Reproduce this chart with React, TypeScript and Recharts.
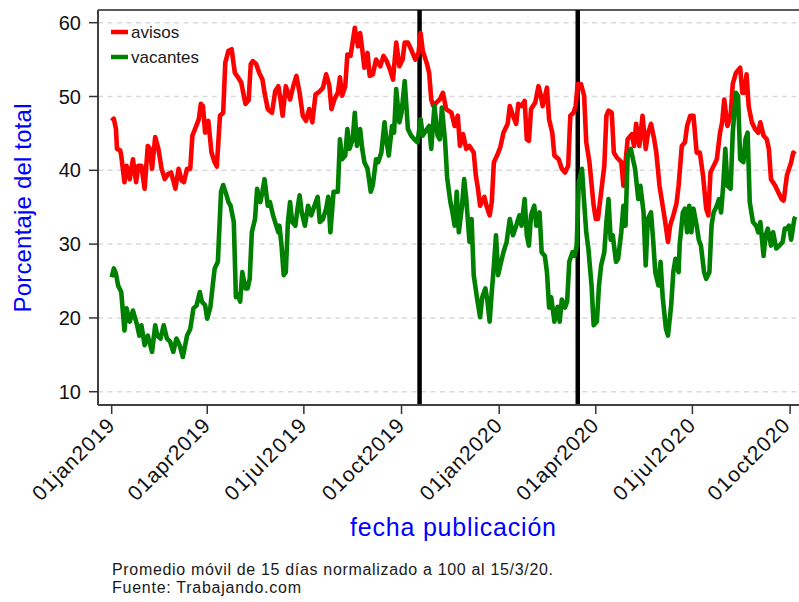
import { LineChart, Line, XAxis, YAxis, CartesianGrid, ReferenceLine } from "recharts";

// días contados desde el 01jan2019
const fechasTicks = [0, 90, 181, 273, 365, 456, 547, 639];
const fechasLabels = [
  "01jan2019",
  "01apr2019",
  "01jul2019",
  "01oct2019",
  "01jan2020",
  "01apr2020",
  "01jul2020",
  "01oct2020",
];
const yTicks = [10, 20, 30, 40, 50, 60];
// 18oct2019 y 15mar2020
const eventos = [290, 439];

const avisosDias = [
  0, 2, 4, 5, 8, 9, 12, 14, 17, 20, 23, 25, 28, 31, 34, 36, 38, 41, 44, 47, 50, 53, 56, 60, 63, 66,
  68, 71, 74, 76, 78, 82, 84, 86, 88, 91, 94, 97, 99, 102, 105, 107, 110, 113, 116, 119, 122, 126,
  129, 131, 133, 136, 139, 142, 144, 147, 151, 154, 157, 159, 161, 164, 168, 171, 174, 177, 180,
  183, 186, 189, 192, 196, 199, 202, 205, 207, 210, 213, 215, 217, 220, 222, 225, 229, 232, 234,
  236, 238, 241, 243, 246, 249, 253, 256, 259, 262, 265, 268, 271, 274, 276, 279, 282, 286, 289,
  291, 293, 297, 299, 301, 303, 306, 309, 312, 315, 320, 323, 326, 328, 331, 334, 337, 341, 343,
  345, 347, 351, 353, 356, 358, 360, 363, 366, 369, 373, 375, 378, 381, 383, 386, 389, 391, 393,
  395, 399, 402, 404, 406, 410, 412, 415, 417, 421, 424, 427, 430, 432, 435, 437, 439, 442, 445,
  447, 450, 454, 456, 458, 461, 464, 466, 468, 471, 473, 476, 480, 482, 484, 486, 490, 492, 494,
  497, 500, 503, 505, 508, 511, 513, 516, 518, 521, 524, 526, 529, 532, 534, 537, 540, 542, 545,
  548, 551, 554, 557, 560, 562, 564, 567, 570, 573, 575, 577, 580, 583, 585, 588, 592, 594, 596,
  598, 600, 603, 606, 609, 611, 614, 617, 619, 621, 625, 628, 631, 633, 636, 638, 640, 642, 644,
];
const avisos = [
  46.7, 47, 45.6, 42.9, 42.7, 42, 38.4, 40.6, 38.8, 41.5, 38.4, 40.6, 40.6, 37.5, 43.3, 42.9, 40.2,
  44.5, 42.9, 40.2, 38.8, 39.5, 39.7, 37.5, 40.2, 38.6, 38.4, 40.2, 40.2, 44.7, 45.4, 46.9, 49.0,
  48.7, 45.1, 46.7, 42.4, 41.1, 40.5, 47.4, 47.8, 54.6, 56.2, 56.4, 53.2, 52.6, 51.9, 49, 49.5, 54.4,
  54.8, 54.4, 53.2, 52.3, 50.5, 48.3, 47.8, 50.7, 51.4, 49.6, 47.4, 51.4, 49.6, 51.4, 52.8, 50.5,
  47.4, 46.7, 48.3, 46.5, 50.3, 50.7, 51.2, 53.0, 51.5, 48.3, 49.7, 50.5, 52.6, 50.1, 51.4, 55.7,
  55.5, 59.3, 56.8, 58.6, 56.4, 53.9, 55.9, 52.8, 53.0, 55, 54.1, 55.5, 54.8, 53.7, 52.3, 57.3, 54.1,
  55, 57.3, 57.3, 56.4, 55, 55.9, 58.6, 56.2, 54.4, 53.2, 49.6, 48.7, 49.2, 49.6, 50.5, 48.3, 47.8,
  46.0, 47.4, 43.3, 44.9, 42.9, 43.3, 42.4, 39.3, 37.5, 35.2, 36.4, 35.2, 33.9, 35.7, 41.1, 42, 43.1,
  45.1, 46.3, 48.7, 47.4, 46.3, 49.0, 48.7, 49.4, 44.2, 44.0, 48.3, 49.2, 51.4, 50.3, 48.7, 51.2,
  46.9, 45.1, 42, 41.5, 40.2, 39.7, 40.6, 47.4, 47.8, 48.7, 51.7, 51.7, 50.1, 43.8, 41.1, 35.2, 33.4,
  33.4, 37.0, 40.6, 47.4, 48.1, 47.8, 42.4, 41.7, 41.1, 37.9, 41.1, 44.2, 44.9, 43.3, 46.3, 43.3,
  47.4, 42.9, 44.9, 46.3, 44.2, 42.4, 37.9, 36.1, 33.4, 30.3, 32.5, 33.9, 35.5, 37.9, 43.3, 43.8,
  46.0, 47.4, 47.4, 42.4, 42.4, 39.3, 34.8, 33.9, 39.7, 40.6, 41.5, 45.1, 46.5, 49.6, 46, 47.4, 51.7,
  53.2, 53.9, 50.5, 50.5, 53, 48.7, 46.5, 45.6, 45.1, 46.5, 44.7, 44.2, 42.9, 38.8, 37.9, 37.0, 36.1,
  35.9, 39.3, 40.2, 41.1, 42.4, 42.2,
];

const vacantesDias = [
  0, 2, 4, 6, 9, 12, 14, 17, 20, 24, 26, 28, 31, 34, 36, 38, 41, 43, 46, 49, 52, 55, 58, 61, 64, 67,
  71, 74, 77, 80, 83, 85, 88, 90, 93, 95, 97, 100, 103, 105, 108, 110, 112, 115, 117, 119, 121, 123,
  126, 128, 130, 132, 135, 137, 140, 142, 144, 147, 149, 152, 155, 157, 158, 160, 162, 164, 166,
  168, 170, 173, 175, 177, 179, 182, 185, 188, 191, 194, 196, 199, 202, 204, 206, 209, 213, 215,
  217, 220, 222, 224, 227, 229, 231, 234, 236, 238, 241, 244, 246, 249, 251, 254, 257, 259, 261,
  264, 266, 268, 271, 273, 276, 279, 282, 285, 288, 291, 293, 297, 299, 301, 304, 307, 309, 311,
  314, 316, 319, 321, 323, 325, 327, 330, 332, 334, 337, 339, 341, 344, 347, 349, 352, 354, 356,
  358, 360, 362, 364, 366, 369, 372, 375, 378, 381, 384, 386, 389, 391, 393, 395, 398, 400, 403,
  405, 408, 410, 412, 414, 417, 420, 422, 424, 427, 429, 431, 434, 436, 438, 440, 443, 445, 447,
  449, 452, 454, 457, 459, 461, 464, 466, 468, 470, 472, 475, 477, 480, 482, 484, 486, 489, 491,
  493, 496, 498, 501, 503, 505, 508, 510, 512, 515, 517, 519, 522, 524, 527, 529, 531, 534, 535,
  538, 540, 542, 544, 546, 548, 551, 553, 555, 558, 560, 563, 565, 567, 570, 572, 574, 576, 578,
  580, 583, 585, 588, 590, 592, 595, 597, 599, 601, 604, 607, 609, 611, 614, 616, 618, 621, 623,
  626, 629, 632, 634, 636, 638, 640, 643, 644,
];
const vacantes = [
  25.5, 26.7, 26, 24.4, 23.5, 18.3, 21.3, 19.5, 21, 19, 17.6, 19, 16.3, 17.6, 16.5, 15.4, 19, 17.6,
  17.2, 19, 17.2, 16.8, 15.4, 17.2, 16.3, 14.7, 17.6, 18.5, 21.3, 21.7, 23.5, 22.2, 21.7, 19.9, 21.5,
  24.2, 26.7, 27.6, 37.1, 38, 36.7, 35.7, 35.2, 33, 22.8, 23.2, 22.2, 26.2, 24, 24, 25.3, 31.6, 33.4,
  37.5, 35.7, 37.1, 38.8, 35.2, 35.7, 33.9, 32.5, 31.6, 32.5, 29.8, 25.8, 26.2, 33, 35.7, 33, 32.5,
  34.8, 36.6, 34.3, 32.5, 35.2, 33.9, 35.2, 36.4, 33, 33.4, 34.8, 36.4, 31.6, 37.1, 37.1, 44.2, 41.5,
  42, 45.6, 42.9, 44.2, 47.8, 43.3, 45.6, 42.9, 41.1, 40.2, 37.1, 38, 41.5, 41.1, 42.4, 46.5, 43.8,
  42, 46, 45.1, 51, 46.5, 47.8, 52.1, 45.6, 44.7, 44.2, 43.8, 46.9, 44.7, 45.6, 46, 42.9, 48.7, 44.7,
  44.2, 48.5, 44, 39, 35.7, 34.3, 32.5, 37.1, 31.6, 35.2, 38.8, 36.1, 30.3, 33.4, 25.8, 22.8, 20.1,
  22.8, 24, 22.2, 19.5, 23.5, 27.1, 31.2, 25.8, 27.1, 28.9, 30.3, 33.4, 31.2, 32.5, 33.9, 32.5, 36.1,
  31.2, 29.8, 33.9, 35.2, 32.5, 34.3, 28.9, 28.4, 26.2, 21.4, 22.8, 19.5, 21.5, 19.5, 22.5, 21.4,
  22.2, 27.6, 28.9, 28.4, 29.8, 38.4, 40.2, 35.7, 31.6, 29.4, 24.4, 19, 19.5, 24.4, 27.1, 28.9, 33,
  36.1, 30.6, 31.2, 27.6, 28, 31.6, 35.2, 32.5, 42, 42.9, 41.5, 40.2, 36.1, 37.9, 34.3, 27.1, 33.4,
  34.3, 30.6, 26.2, 24.4, 27.6, 22.8, 18.6, 17.6, 21.7, 26.2, 28, 26.2, 30, 34.3, 34.8, 31.6, 35.2,
  31.6, 34.8, 32.5, 30.6, 29.8, 26.2, 25.3, 26.2, 32.5, 34.3, 35.2, 36.1, 34.3, 37.9, 42.9, 37.9,
  37.5, 45.1, 50.5, 50.1, 41.5, 41.1, 44.2, 45.1, 35.7, 33, 32.5, 31.6, 33, 28.4, 31.2, 32.1, 29.8,
  31.6, 29.4, 29.8, 30.3, 32.1, 32.1, 32.5, 30.6, 33.4, 33.7,
];

const avisosData = avisosDias.map((d, i) => ({ dia: d, valor: avisos[i] }));
const vacantesData = vacantesDias.map((d, i) => ({ dia: d, valor: vacantes[i] }));

const FONT = "'Liberation Sans', Arial, sans-serif";
const ROJO = "#ff0000";
const VERDE = "#008000";
const Y_MAX = 61.72;

function FechaTick({ x, y, payload }: any) {
  const label = fechasLabels[fechasTicks.indexOf(payload.value)];
  const ax = x + 4;
  const ay = y + 13;
  return (
    <text
      x={ax}
      y={ay}
      transform={`rotate(-45 ${ax} ${ay})`}
      textAnchor="end"
      fontSize={21}
      fontFamily={FONT}
      fill="#111"
      textLength={106}
      lengthAdjust="spacing"
    >
      {label}
    </text>
  );
}

export default function App() {
  return (
    <div style={{ position: "absolute", left: 0, top: 0, width: 799, height: 602, background: "#fff" }}>
      <LineChart width={799} height={602} margin={{ top: 10, right: 0, bottom: 97, left: 0 }}>
        <CartesianGrid
          vertical={false}
          stroke="#dadada"
          strokeWidth={1.5}
          strokeDasharray="5 4.5"
        />
        <XAxis
          type="number"
          dataKey="dia"
          domain={[-12.9, 647.4]}
          ticks={fechasTicks}
          allowDataOverflow
          height={100}
          tickSize={9}
          tickMargin={0}
          tick={<FechaTick />}
          tickLine={{ stroke: "#333", strokeWidth: 1.5 }}
          axisLine={{ stroke: "#404040", strokeWidth: 2 }}
        />
        <YAxis
          type="number"
          domain={[8.2, Y_MAX]}
          ticks={yTicks}
          allowDataOverflow
          width={98}
          tickSize={9}
          tickMargin={8}
          tick={{ fontSize: 20, fontFamily: FONT, fill: "#111" }}
          tickLine={{ stroke: "#333", strokeWidth: 1.5 }}
          axisLine={{ stroke: "#404040", strokeWidth: 2 }}
        />
        <ReferenceLine y={Y_MAX} stroke="#5a5a5a" strokeWidth={2} />
        {eventos.map((d) => (
          <ReferenceLine key={d} x={d} stroke="#000" strokeWidth={4.5} />
        ))}
        <Line
          data={avisosData}
          dataKey="valor"
          type="linear"
          stroke={ROJO}
          strokeWidth={4.6}
          strokeLinejoin="round"
          dot={false}
          isAnimationActive={false}
        />
        <Line
          data={vacantesData}
          dataKey="valor"
          type="linear"
          stroke={VERDE}
          strokeWidth={4.6}
          strokeLinejoin="round"
          dot={false}
          isAnimationActive={false}
        />
      </LineChart>
      <svg
        width={799}
        height={602}
        style={{ position: "absolute", left: 0, top: 0, pointerEvents: "none" }}
        fontFamily={FONT}
      >
        <line x1={111} x2={128} y1={32} y2={32} stroke={ROJO} strokeWidth={4.5} />
        <text x={131} y={38} fontSize={17} fill="#1a1a1a">avisos</text>
        <line x1={111} x2={128} y1={57} y2={57} stroke={VERDE} strokeWidth={4.5} />
        <text x={131} y={63} fontSize={17} fill="#1a1a1a">vacantes</text>

        <text
          x={31}
          y={208}
          transform="rotate(-90 31 208)"
          textAnchor="middle"
          fontSize={24}
          fill="#0000ff"
          textLength={209}
          lengthAdjust="spacing"
        >
          Porcentaje del total
        </text>
        <text
          x={453}
          y={536}
          textAnchor="middle"
          fontSize={25}
          fill="#0000ff"
          textLength={206}
          lengthAdjust="spacing"
        >
          fecha publicación
        </text>
        <text x={112} y={575} fontSize={16} fill="#1a1a1a" textLength={441} lengthAdjust="spacing">
          Promedio móvil de 15 días normalizado a 100 al 15/3/20.
        </text>
        <text x={112} y={593} fontSize={16} fill="#1a1a1a" textLength={189} lengthAdjust="spacing">
          Fuente: Trabajando.com
        </text>
      </svg>
    </div>
  );
}
